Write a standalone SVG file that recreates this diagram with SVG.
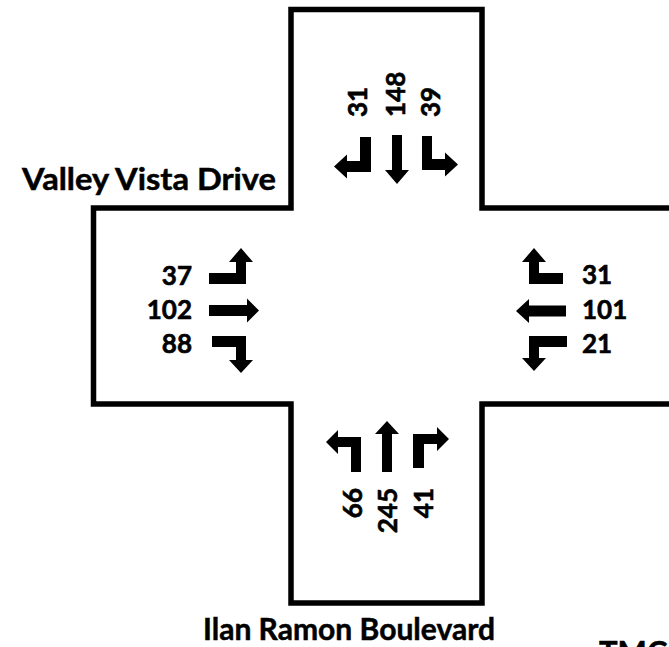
<svg xmlns="http://www.w3.org/2000/svg" width="669" height="647" viewBox="0 0 669 647">
<style>
  .road { fill: none; stroke: #000; stroke-width: 5.5; stroke-linejoin: miter; }
  .arr { fill: #000; stroke: none; }
  .num { font-family: Lato, "Liberation Sans", sans-serif; font-weight: bold; font-size: 26px; fill: #000; stroke: #000; stroke-width: 0.6; }
  .lbl { font-family: Lato, "Liberation Sans", sans-serif; font-weight: bold; font-size: 31px; fill: #000; stroke: #000; stroke-width: 0.5; }
</style>
<rect width="669" height="647" fill="#fff"/>
<g id="roads">
  <path class="road" d="M 672,208 H 482 V 9.5 H 291 V 208 H 93.5 V 404 H 291 V 603 H 482 V 404 H 672"/>
</g>
<g id="labels">
  <text class="lbl" x="276" y="190" text-anchor="end" textLength="254" lengthAdjust="spacingAndGlyphs">Valley Vista Drive</text>
  <text class="lbl" x="203" y="640" textLength="292" lengthAdjust="spacingAndGlyphs">Ilan Ramon Boulevard</text>
  <text class="lbl" x="599" y="663">TMC</text>
</g>
<g id="southbound">
  <polygon class="arr" points="360,137 371,137 371,172 347,172 347,178.5 334,166.5 347,154.5 347,161 360,161"/>
  <polygon class="arr" points="392,135 402,135 402,170 409,170 397,184 385,170 392,170"/>
  <polygon class="arr" points="422,136 432,136 432,159 445,159 445,152.5 458,164.5 445,176.5 445,170 422,170"/>
  <text class="num" transform="translate(367,117) rotate(-90)">31</text>
  <text class="num" transform="translate(405,117) rotate(-90)">148</text>
  <text class="num" transform="translate(440,117) rotate(-90)">39</text>
</g>
<g id="eastbound">
  <polygon class="arr" points="209,273 236,273 236,262 229,262 241,248 253,262 246,262 246,284 209,284"/>
  <polygon class="arr" points="209,305 247,305 247,298.5 259,310.5 247,322.5 247,316 209,316"/>
  <polygon class="arr" points="212,336 246,336 246,360 253,360 241,373 229,360 236,360 236,347 212,347"/>
  <text class="num" x="192" y="285" text-anchor="end">37</text>
  <text class="num" x="192" y="319" text-anchor="end">102</text>
  <text class="num" x="192" y="353" text-anchor="end">88</text>
</g>
<g id="westbound">
  <polygon class="arr" points="529,262 522,262 534,248 546,262 539,262 539,273 563,273 563,284 529,284"/>
  <polygon class="arr" points="516,311 529,299 529,305.5 566,305.5 566,316.5 529,316.5 529,323"/>
  <polygon class="arr" points="529,336 567,336 567,347 539,347 539,358 546,358 534,371 522,358 529,358"/>
  <text class="num" x="582" y="284">31</text>
  <text class="num" x="582" y="319">101</text>
  <text class="num" x="582" y="353">21</text>
</g>
<g id="northbound">
  <polygon class="arr" points="351,472 361,472 361,437 338,437 338,430 326,442 338,454 338,447 351,447"/>
  <polygon class="arr" points="382,472 392,472 392,434 399,434 387,421 375,434 382,434"/>
  <polygon class="arr" points="413,468 424,468 424,444 437,444 437,451 449,439 437,427 437,434 413,434"/>
  <text class="num" transform="translate(362,488) rotate(-90)" text-anchor="end">66</text>
  <text class="num" transform="translate(397,488) rotate(-90)" text-anchor="end">245</text>
  <text class="num" transform="translate(433,488) rotate(-90)" text-anchor="end">41</text>
</g>
</svg>
